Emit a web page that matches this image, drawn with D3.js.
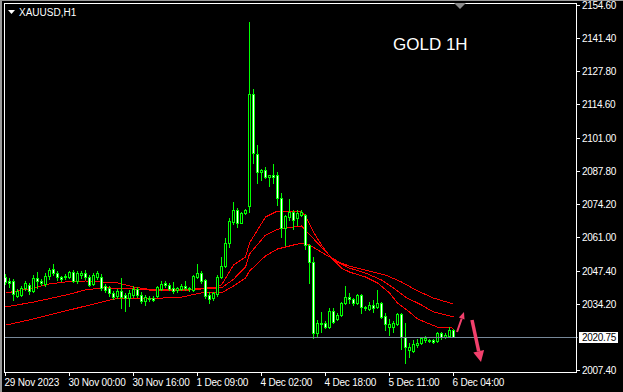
<!DOCTYPE html>
<html>
<head>
<meta charset="utf-8">
<script src="https://cdn.jsdelivr.net/npm/d3@7"></script>
<style>
  html, body { margin: 0; padding: 0; background: #000; }
  svg { display: block; }
  text { font-family: "Liberation Sans", Arial, sans-serif; fill: #fff; }
</style>
</head>
<body>
<svg id="chart" width="623" height="392"></svg>
<script>
// XAUUSD H1 candles, one per hour
const opens = [
  2044.9, 2043.3, 2043.3, 2037.2, 2037.6, 2040.5, 2041.7, 2039.3, 2044.5, 2043.3,
  2042.1, 2045.3, 2048.1, 2046.5, 2044.9, 2044.9, 2044.9, 2046.9, 2043.3, 2045.7,
  2046.5, 2044.9, 2042.1, 2044.9, 2044.9, 2041.3, 2040.5, 2038.5, 2037.2, 2039.3,
  2037.6, 2036.4, 2037.6, 2040.1, 2037.6, 2035.2, 2036.0, 2036.4, 2037.2, 2040.1,
  2042.5, 2041.7, 2040.5, 2039.7, 2040.1, 2041.3, 2040.5, 2039.7, 2044.9, 2046.5,
  2043.7, 2037.6, 2036.4, 2038.0, 2044.9, 2049.3, 2058.6, 2067.1, 2071.9, 2066.7,
  2070.7, 2073.5, 2118.7, 2094.5, 2087.2, 2088.0, 2085.2, 2086.0, 2086.0, 2076.7,
  2064.7, 2069.1, 2071.1, 2068.7, 2069.9, 2069.9, 2057.8, 2050.9, 2022.3, 2026.0,
  2026.4, 2024.7, 2031.2, 2028.0, 2029.6, 2034.4, 2036.8, 2036.0, 2034.4, 2037.6,
  2032.4, 2032.0, 2033.6, 2032.8, 2034.4, 2029.2, 2024.7, 2024.7, 2026.0, 2030.0,
  2020.7, 2015.5, 2015.1, 2017.5, 2018.3, 2019.5, 2019.5, 2019.5, 2019.1, 2022.3,
  2020.7, 2021.1, 2023.5
];
const highs = [
  2046.1, 2044.5, 2044.1, 2040.1, 2041.3, 2043.3, 2042.5, 2045.7, 2046.9, 2044.1,
  2046.5, 2048.5, 2050.1, 2047.3, 2045.3, 2046.1, 2047.3, 2047.7, 2047.3, 2047.3,
  2047.7, 2045.7, 2046.5, 2047.3, 2046.1, 2042.1, 2041.3, 2039.3, 2040.1, 2044.5,
  2038.5, 2039.7, 2041.3, 2040.9, 2038.9, 2037.6, 2037.2, 2037.2, 2041.3, 2043.3,
  2043.3, 2042.5, 2042.9, 2040.9, 2042.1, 2043.3, 2040.9, 2045.7, 2050.1, 2047.3,
  2044.1, 2038.9, 2038.9, 2045.7, 2053.0, 2060.6, 2068.7, 2075.1, 2072.7, 2071.1,
  2072.3, 2147.7, 2120.7, 2098.1, 2088.4, 2089.2, 2086.0, 2090.5, 2087.2, 2078.8,
  2069.9, 2076.3, 2071.9, 2071.9, 2071.9, 2070.3, 2058.2, 2053.0, 2027.6, 2030.8,
  2027.2, 2032.4, 2032.4, 2030.4, 2034.8, 2041.3, 2038.5, 2036.4, 2038.0, 2038.0,
  2033.2, 2034.8, 2035.6, 2039.7, 2034.8, 2030.4, 2028.0, 2027.2, 2030.4, 2030.4,
  2026.4, 2018.3, 2019.5, 2019.9, 2020.7, 2021.1, 2019.9, 2019.9, 2022.7, 2022.7,
  2022.3, 2024.7, 2023.9
];
const lows = [
  2042.1, 2040.9, 2035.6, 2036.8, 2037.2, 2039.7, 2038.0, 2038.9, 2040.5, 2041.7,
  2041.3, 2044.1, 2045.7, 2043.7, 2043.3, 2044.1, 2044.5, 2042.9, 2042.5, 2044.5,
  2044.1, 2041.3, 2041.7, 2044.1, 2039.7, 2038.9, 2037.2, 2036.0, 2036.4, 2032.4,
  2031.2, 2033.2, 2036.8, 2036.8, 2034.4, 2033.6, 2035.2, 2035.2, 2036.8, 2039.7,
  2040.9, 2039.7, 2038.5, 2038.9, 2039.7, 2039.7, 2039.3, 2039.3, 2044.5, 2042.5,
  2036.4, 2034.4, 2035.6, 2037.2, 2044.5, 2048.9, 2057.0, 2066.3, 2065.1, 2066.7,
  2070.3, 2071.1, 2090.9, 2082.8, 2084.0, 2084.8, 2081.6, 2082.8, 2073.9, 2061.0,
  2057.8, 2067.9, 2064.2, 2065.9, 2069.5, 2056.2, 2042.5, 2020.3, 2021.1, 2022.7,
  2024.3, 2024.3, 2026.4, 2027.6, 2029.2, 2034.0, 2034.4, 2033.6, 2034.0, 2030.4,
  2031.6, 2031.6, 2030.8, 2032.4, 2028.4, 2023.5, 2021.5, 2022.7, 2025.5, 2015.9,
  2010.2, 2012.7, 2014.7, 2016.7, 2017.9, 2018.7, 2018.7, 2018.3, 2018.7, 2019.9,
  2020.3, 2020.7, 2020.7
];
const closes = [
  2042.9, 2042.5, 2038.0, 2039.3, 2040.5, 2042.5, 2039.3, 2044.5, 2043.3, 2042.5,
  2045.3, 2047.7, 2046.5, 2044.9, 2044.1, 2045.3, 2046.9, 2043.3, 2046.5, 2046.5,
  2044.9, 2041.7, 2045.7, 2046.5, 2040.5, 2039.7, 2038.5, 2036.8, 2039.3, 2036.8,
  2036.4, 2038.5, 2040.1, 2037.6, 2035.2, 2036.8, 2036.4, 2035.6, 2040.9, 2042.1,
  2041.7, 2040.1, 2039.3, 2040.5, 2041.3, 2040.5, 2040.1, 2045.3, 2046.5, 2043.3,
  2037.2, 2036.0, 2038.5, 2044.9, 2049.3, 2058.6, 2067.5, 2071.9, 2066.7, 2070.7,
  2071.9, 2118.7, 2094.9, 2087.2, 2088.0, 2085.2, 2086.0, 2085.2, 2076.7, 2064.7,
  2069.5, 2071.1, 2067.9, 2070.7, 2071.1, 2057.8, 2050.9, 2022.3, 2026.4, 2026.4,
  2024.7, 2031.2, 2026.8, 2029.6, 2034.4, 2036.8, 2036.0, 2034.4, 2037.6, 2032.8,
  2032.8, 2033.6, 2032.4, 2034.4, 2028.8, 2026.0, 2026.0, 2026.4, 2030.0, 2020.7,
  2016.7, 2016.7, 2017.9, 2018.3, 2020.3, 2020.3, 2019.1, 2018.7, 2022.3, 2020.7,
  2021.5, 2023.5, 2020.75
];

// moving averages, [bar index, price] read at points along each red line
const maFast = [
  [0, 2038.4], [7, 2040.5], [11, 2042.1], [15, 2042.9], [20, 2043.3], [24, 2042.9],
  [28, 2042.5], [32, 2040.9], [35, 2040.1], [38, 2039.7], [44, 2039.7], [47, 2040.1],
  [50, 2040.5], [53, 2040.9], [54, 2041.7], [57, 2049.7], [60, 2053.0], [61, 2058.6],
  [65, 2069.1], [68, 2071.5], [71, 2071.5], [74, 2071.1], [75, 2069.5], [77, 2063.0],
  [79, 2057.8], [81, 2053.4], [84, 2048.5], [86, 2046.9], [90, 2044.9], [93, 2042.5],
  [96, 2038.5], [98, 2034.4], [101, 2030.8], [103, 2028.0], [106, 2026.0], [108, 2024.7],
  [112, 2024.3]
];
const maMid = [
  [0, 2032.8], [7, 2034.8], [15, 2037.6], [20, 2039.7], [24, 2040.5], [26, 2040.5],
  [32, 2040.1], [39, 2039.3], [44, 2039.3], [49, 2040.1], [53, 2040.5], [54, 2040.5],
  [57, 2044.0], [60, 2048.9], [61, 2054.2], [65, 2061.8], [68, 2064.2], [74, 2065.5],
  [78, 2058.6], [82, 2051.8], [86, 2048.5], [90, 2046.5], [94, 2043.7], [97, 2040.5],
  [100, 2036.8], [104, 2033.6], [107, 2030.8], [112, 2028.8]
];
const maSlow = [
  [0, 2025.5], [6, 2027.6], [11, 2029.6], [19, 2032.8], [24, 2034.8], [27, 2036.0],
  [32, 2036.4], [39, 2036.4], [44, 2036.8], [49, 2038.5], [53, 2038.9], [54, 2038.5],
  [57, 2041.3], [60, 2044.5], [61, 2047.3], [65, 2053.4], [68, 2056.2], [74, 2058.6],
  [76, 2057.8], [81, 2053.0], [84, 2050.5], [86, 2049.3], [90, 2047.7], [95, 2045.7],
  [99, 2042.9], [103, 2039.3], [107, 2036.4], [112, 2034.0]
];

const priceTicks = [2154.60, 2141.40, 2127.80, 2114.60, 2101.00, 2087.80,
                    2074.20, 2061.00, 2047.40, 2034.20, 2007.40];
const bidPrice = 2020.75;
const timeTickBars = [0, 16, 32, 48, 64, 80, 96, 112];
const timeLabels = ["29 Nov 2023", "30 Nov 00:00", "30 Nov 16:00", "1 Dec 09:00",
                    "4 Dec 02:00", "4 Dec 18:00", "5 Dec 11:00", "6 Dec 04:00"];

const svg = d3.select("#chart");
const W = 623, H = 392;
const frameL = 4, frameT = 3, frameR = 576, frameB = 372;

const x = d3.scaleLinear().domain([0, 112]).range([5, 453]);
const y = d3.scaleLinear().domain([2007.4, 2154.6]).range([370, 5]);

svg.append("rect").attr("width", W).attr("height", H).attr("fill", "#000");
// window edge
svg.append("rect").attr("x", 0).attr("y", 0).attr("width", 2).attr("height", H).attr("fill", "#9a9a9a");
svg.append("rect").attr("x", 0).attr("y", 0).attr("width", W).attr("height", 1).attr("fill", "#9a9a9a");

const candles = opens.map((o, i) => ({ i, o, h: highs[i], l: lows[i], c: closes[i] }));

// moving averages
const maLine = d3.line().x(d => x(d[0]) + 0.5).y(d => y(d[1]));
[maSlow, maMid, maFast].forEach(ma => {
  svg.append("path")
    .attr("d", maLine(ma))
    .attr("fill", "none")
    .attr("stroke", "#ff0000")
    .attr("stroke-width", 1)
    .attr("shape-rendering", "crispEdges");
});

// candles
const cg = svg.append("g").attr("shape-rendering", "crispEdges");
cg.selectAll("line.wick")
  .data(candles)
  .enter().append("line")
  .attr("class", "wick")
  .attr("x1", d => Math.round(x(d.i)) + 0.5)
  .attr("x2", d => Math.round(x(d.i)) + 0.5)
  .attr("y1", d => Math.round(y(d.h)))
  .attr("y2", d => Math.round(y(d.l)) + 1)
  .attr("stroke", "#00ff00");
cg.selectAll("rect.body")
  .data(candles)
  .enter().append("rect")
  .attr("class", "body")
  .attr("x", d => Math.round(x(d.i)) - 0.5)
  .attr("width", 2)
  .attr("y", d => Math.round(y(Math.max(d.o, d.c))) + 0.5)
  .attr("height", d => Math.max(1, Math.round(y(Math.min(d.o, d.c))) - Math.round(y(Math.max(d.o, d.c)))))
  .attr("fill", d => d.c >= d.o ? "#000" : "#fff")
  .attr("stroke", "#00ff00");

// bid line
svg.append("line")
  .attr("x1", frameL).attr("x2", frameR + 2)
  .attr("y1", Math.round(y(bidPrice)) + 0.5).attr("y2", Math.round(y(bidPrice)) + 0.5)
  .attr("stroke", "#778899");

// frame
svg.append("rect")
  .attr("x", frameL + 0.5).attr("y", frameT + 0.5)
  .attr("width", frameR - frameL).attr("height", frameB - frameT)
  .attr("fill", "none").attr("stroke", "#fff");

// price axis
const pa = svg.append("g");
priceTicks.forEach(p => {
  const yy = Math.round(y(p)) + 0.5;
  pa.append("line").attr("x1", frameR + 1).attr("x2", frameR + 4)
    .attr("y1", yy).attr("y2", yy).attr("stroke", "#fff");
  pa.append("text").attr("x", 582).attr("y", yy + 3.5)
    .attr("font-size", 10).attr("letter-spacing", "-0.3px")
    .text(p.toFixed(2));
});
const by = Math.round(y(bidPrice));
pa.append("rect").attr("x", 579).attr("y", by - 5).attr("width", 39).attr("height", 11).attr("fill", "#fff");
pa.append("text").attr("x", 582).attr("y", by + 4)
  .attr("font-size", 10).attr("letter-spacing", "-0.3px")
  .style("fill", "#000")
  .text(bidPrice.toFixed(2));

// time axis
const ta = svg.append("g");
timeTickBars.forEach((b, k) => {
  const xx = Math.round(x(b)) + 0.5;
  ta.append("line").attr("x1", xx).attr("x2", xx)
    .attr("y1", frameB + 1).attr("y2", frameB + 4).attr("stroke", "#fff");
  ta.append("text").attr("x", xx - 1).attr("y", 386)
    .attr("font-size", 10).attr("letter-spacing", "-0.2px")
    .text(timeLabels[k]);
});

// title
svg.append("path").attr("d", "M8,10 L15,10 L11.5,14 Z").attr("fill", "#fff");
svg.append("text").attr("x", 19).attr("y", 15.5).attr("font-size", 10).text("XAUUSD,H1");
svg.append("text").attr("x", 393).attr("y", 50).attr("font-size", 17).text("GOLD 1H");

// chart shift marker
svg.append("path").attr("d", "M454,3 L466,3 L460,9 Z").attr("fill", "#8a8a8a");

// arrows
const arrowColor = "#f2406c";
function arrow(x1, y1, x2, y2, w, headLen, headW) {
  const a = Math.atan2(y2 - y1, x2 - x1);
  const bx = x2 - headLen * Math.cos(a), byy = y2 - headLen * Math.sin(a);
  svg.append("line").attr("x1", x1).attr("y1", y1).attr("x2", bx).attr("y2", byy)
    .attr("stroke", arrowColor).attr("stroke-width", w);
  const px = -Math.sin(a) * headW / 2, py = Math.cos(a) * headW / 2;
  svg.append("path")
    .attr("d", `M${x2},${y2} L${bx + px},${byy + py} L${bx - px},${byy - py} Z`)
    .attr("fill", arrowColor);
}
arrow(457, 332, 464, 312, 2, 7, 6);
arrow(472, 320, 481, 362, 3.5, 11, 11);
</script>
</body>
</html>
